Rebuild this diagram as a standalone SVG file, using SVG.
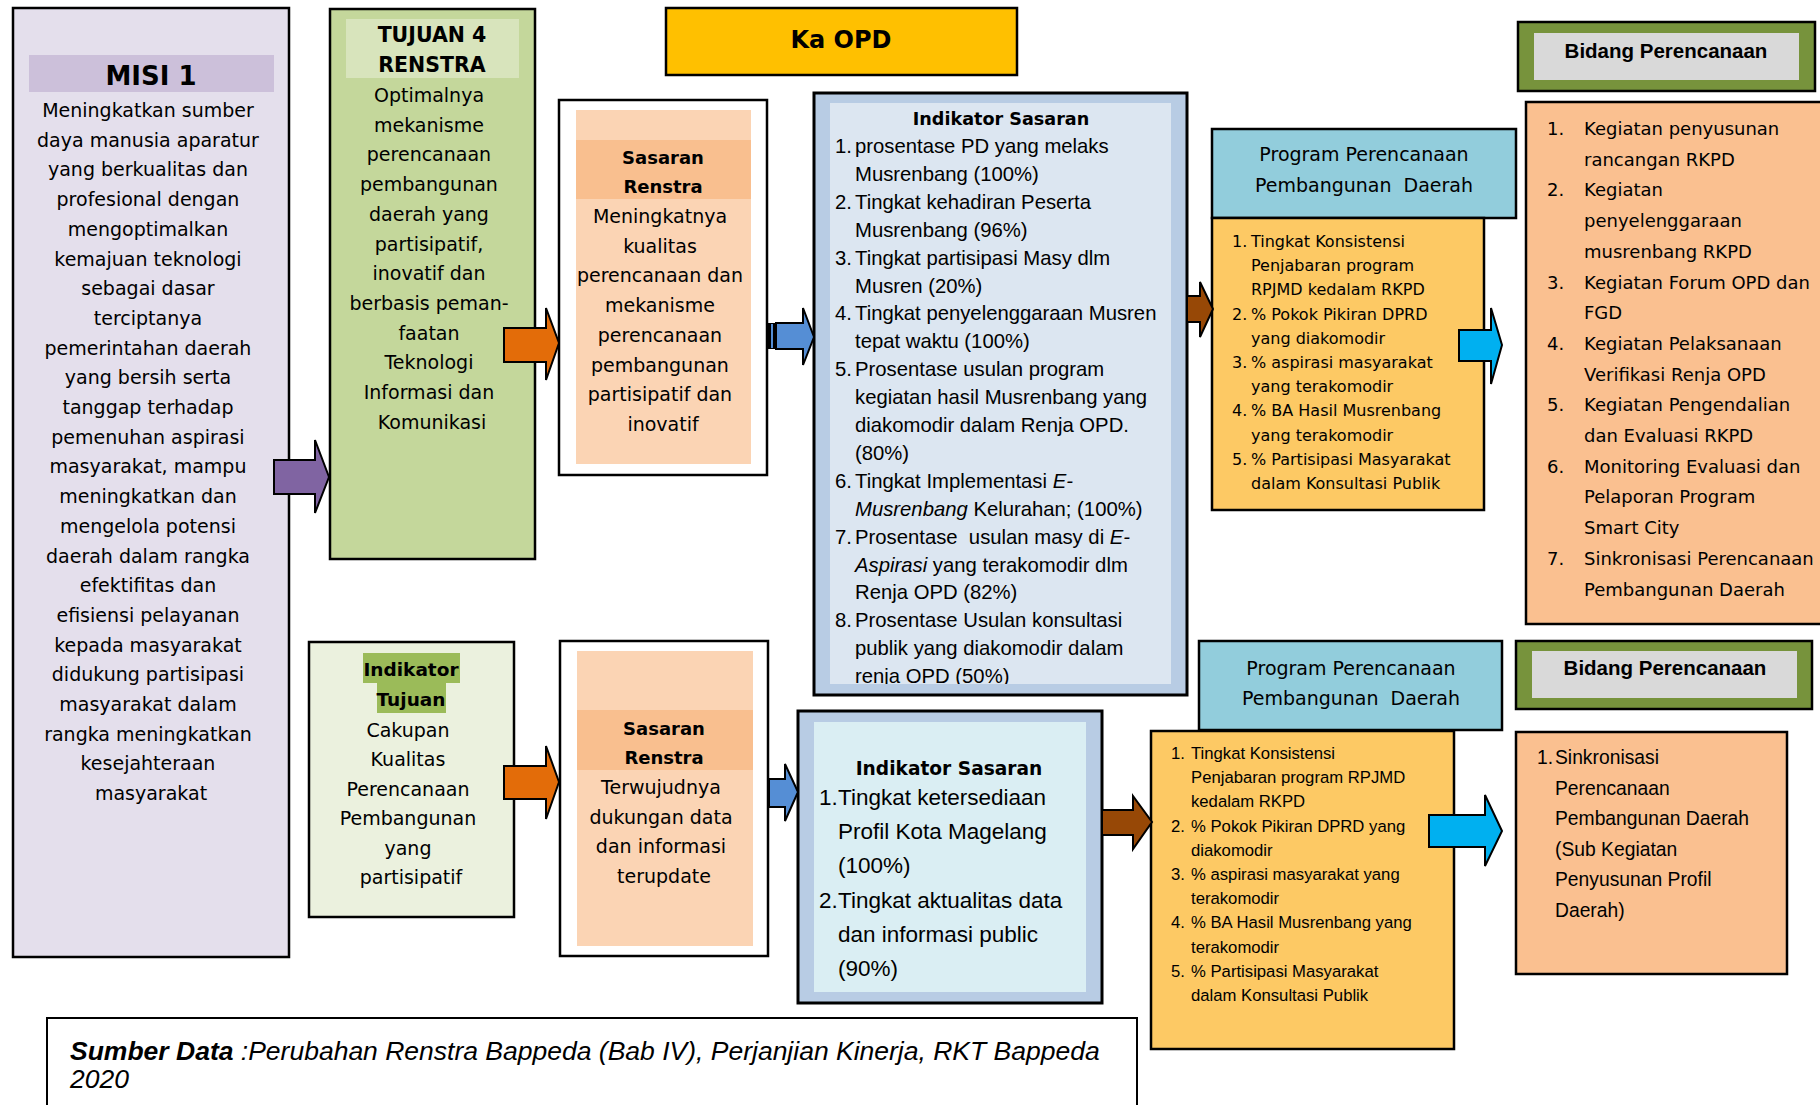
<svg xmlns="http://www.w3.org/2000/svg" width="1820" height="1105" viewBox="0 0 1820 1105">
<defs>
<style>
.bx{stroke:#000;stroke-width:2.5}
.w{font-family:"DejaVu Sans",sans-serif;font-size:19px;fill:#000;text-anchor:middle}
.wb{font-family:"DejaVu Sans",sans-serif;font-weight:bold;fill:#000;text-anchor:middle}
.n{font-family:"Liberation Sans",Arial,sans-serif;fill:#000}
.y{font-family:"DejaVu Sans",sans-serif;font-size:16px;fill:#000}
.k{font-family:"DejaVu Sans",sans-serif;font-size:18px;fill:#000}
.arr{stroke:#000;stroke-width:2;stroke-linejoin:miter}
</style>
<clipPath id="clipIS"><rect x="830" y="103" width="341" height="581"/></clipPath>
</defs>
<rect width="1820" height="1105" fill="#fff"/>

<g id="misi">
<rect class="bx" x="13" y="8" width="276" height="949" fill="#e4dfec"/>
<rect x="29" y="55" width="245" height="37" fill="#ccc0da"/>
<text class="wb" x="151" y="85" font-size="26">MISI 1</text>
<text class="w">
<tspan x="151" y="117">Meningkatkan sumber</tspan>
<tspan x="151" y="146.7">daya manusia aparatur</tspan>
<tspan x="151" y="176.4">yang berkualitas dan</tspan>
<tspan x="151" y="206.1">profesional dengan</tspan>
<tspan x="151" y="235.8">mengoptimalkan</tspan>
<tspan x="151" y="265.5">kemajuan teknologi</tspan>
<tspan x="151" y="295.2">sebagai dasar</tspan>
<tspan x="151" y="324.9">terciptanya</tspan>
<tspan x="151" y="354.6">pemerintahan daerah</tspan>
<tspan x="151" y="384.3">yang bersih serta</tspan>
<tspan x="151" y="414">tanggap terhadap</tspan>
<tspan x="151" y="443.7">pemenuhan aspirasi</tspan>
<tspan x="151" y="473.4">masyarakat, mampu</tspan>
<tspan x="151" y="503.1">meningkatkan dan</tspan>
<tspan x="151" y="532.8">mengelola potensi</tspan>
<tspan x="151" y="562.5">daerah dalam rangka</tspan>
<tspan x="151" y="592.2">efektifitas dan</tspan>
<tspan x="151" y="621.9">efisiensi pelayanan</tspan>
<tspan x="151" y="651.6">kepada masyarakat</tspan>
<tspan x="151" y="681.3">didukung partisipasi</tspan>
<tspan x="151" y="711">masyarakat dalam</tspan>
<tspan x="151" y="740.7">rangka meningkatkan</tspan>
<tspan x="151" y="770.4">kesejahteraan</tspan>
<tspan x="151" y="800.1">masyarakat</tspan>
</text>
</g>

<g id="tujuan">
<rect class="bx" x="330" y="9" width="205" height="550" fill="#c4d79b"/>
<rect x="346" y="19" width="173" height="59" fill="#d8e4bc"/>
<text class="wb" font-size="20.5"><tspan x="432" y="42">TUJUAN 4</tspan><tspan x="432" y="72">RENSTRA</tspan></text>
<text class="w">
<tspan x="432" y="102">Optimalnya</tspan>
<tspan x="432" y="131.7">mekanisme</tspan>
<tspan x="432" y="161.4">perencanaan</tspan>
<tspan x="432" y="191.1">pembangunan</tspan>
<tspan x="432" y="220.8">daerah yang</tspan>
<tspan x="432" y="250.5">partisipatif,</tspan>
<tspan x="432" y="280.2">inovatif dan</tspan>
<tspan x="432" y="309.9">berbasis peman-</tspan>
<tspan x="432" y="339.6">faatan</tspan>
<tspan x="432" y="369.3">Teknologi</tspan>
<tspan x="432" y="399">Informasi dan</tspan>
<tspan x="432" y="428.7">Komunikasi</tspan>
</text>
</g>

<g id="indikator-tujuan">
<rect class="bx" x="309" y="642" width="205" height="275" fill="#ebf1de"/>
<rect x="363" y="653" width="97" height="30" fill="#9bbb59"/>
<rect x="377" y="683" width="69" height="30" fill="#9bbb59"/>
<text class="wb" font-size="18.5"><tspan x="411" y="676">Indikator</tspan><tspan x="411" y="706">Tujuan</tspan></text>
<text class="w" font-size="18.5">
<tspan x="411" y="737">Cakupan</tspan>
<tspan x="411" y="766">Kualitas</tspan>
<tspan x="411" y="795.5">Perencanaan</tspan>
<tspan x="411" y="825">Pembangunan</tspan>
<tspan x="411" y="854.5">yang</tspan>
<tspan x="411" y="884">partisipatif</tspan>
</text>
</g>

<g id="ka-opd">
<rect class="bx" x="666" y="8" width="351" height="67" fill="#ffc000"/>
<text class="wb" x="841" y="48" font-size="24">Ka OPD</text>
</g>

<g id="sasaran-1">
<rect class="bx" x="559" y="100" width="208" height="375" fill="#fff"/>
<rect x="576" y="110" width="175" height="354" fill="#fbd4b4"/>
<rect x="576" y="140" width="175" height="59" fill="#f9bf8f"/>
<text class="wb" font-size="18"><tspan x="663" y="164">Sasaran</tspan><tspan x="663" y="193">Renstra</tspan></text>
<text class="w">
<tspan x="663" y="223">Meningkatnya</tspan>
<tspan x="663" y="252.7">kualitas</tspan>
<tspan x="663" y="282.4">perencanaan dan</tspan>
<tspan x="663" y="312.1">mekanisme</tspan>
<tspan x="663" y="341.8">perencanaan</tspan>
<tspan x="663" y="371.5">pembangunan</tspan>
<tspan x="663" y="401.2">partisipatif dan</tspan>
<tspan x="663" y="430.9">inovatif</tspan>
</text>
</g>

<g id="sasaran-2">
<rect class="bx" x="560" y="641" width="208" height="315" fill="#fff"/>
<rect x="577" y="651" width="176" height="295" fill="#fbd4b4"/>
<rect x="577" y="710" width="176" height="60" fill="#f9bf8f"/>
<text class="wb" font-size="18"><tspan x="664" y="735">Sasaran</tspan><tspan x="664" y="764">Renstra</tspan></text>
<text class="w">
<tspan x="664" y="794">Terwujudnya</tspan>
<tspan x="664" y="823.5">dukungan data</tspan>
<tspan x="664" y="853">dan informasi</tspan>
<tspan x="664" y="882.5">terupdate</tspan>
</text>
</g>

<g id="indikator-sasaran-1">
<rect x="814" y="93" width="373" height="602" fill="#b8cce4" stroke="#000" stroke-width="3"/>
<rect x="830" y="103" width="341" height="581" fill="#dce6f1"/>
<text class="wb" x="1001" y="125" font-size="17.6">Indikator Sasaran</text>
<g clip-path="url(#clipIS)">
<text class="n" font-size="20.3">
<tspan x="835" y="153">1.</tspan><tspan x="855" y="153">prosentase PD yang melaks</tspan>
<tspan x="855" y="180.9">Musrenbang (100%)</tspan>
<tspan x="835" y="208.8">2.</tspan><tspan x="855" y="208.8">Tingkat kehadiran Peserta</tspan>
<tspan x="855" y="236.7">Musrenbang (96%)</tspan>
<tspan x="835" y="264.6">3.</tspan><tspan x="855" y="264.6">Tingkat partisipasi Masy dlm</tspan>
<tspan x="855" y="292.5">Musren (20%)</tspan>
<tspan x="835" y="320.4">4.</tspan><tspan x="855" y="320.4">Tingkat penyelenggaraan Musren</tspan>
<tspan x="855" y="348.3">tepat waktu (100%)</tspan>
<tspan x="835" y="376.2">5.</tspan><tspan x="855" y="376.2">Prosentase usulan program</tspan>
<tspan x="855" y="404.1">kegiatan hasil Musrenbang yang</tspan>
<tspan x="855" y="432">diakomodir dalam Renja OPD.</tspan>
<tspan x="855" y="459.9">(80%)</tspan>
<tspan x="835" y="487.8">6.</tspan><tspan x="855" y="487.8">Tingkat Implementasi <tspan font-style="italic">E-</tspan></tspan>
<tspan x="855" y="515.7" font-style="italic">Musrenbang</tspan><tspan> Kelurahan; (100%)</tspan>
<tspan x="835" y="543.6">7.</tspan><tspan x="855" y="543.6">Prosentase&#160; usulan masy di <tspan font-style="italic">E-</tspan></tspan>
<tspan x="855" y="571.5" font-style="italic">Aspirasi</tspan><tspan> yang terakomodir dlm</tspan>
<tspan x="855" y="599.4">Renja OPD (82%)</tspan>
<tspan x="835" y="627.3">8.</tspan><tspan x="855" y="627.3">Prosentase Usulan konsultasi</tspan>
<tspan x="855" y="655.2">publik yang diakomodir dalam</tspan>
<tspan x="855" y="683.1">renja OPD (50%)</tspan>
</text>
</g>
</g>

<g id="indikator-sasaran-2">
<rect x="798" y="711" width="304" height="292" fill="#b8cce4" stroke="#000" stroke-width="3"/>
<rect x="814" y="722" width="272" height="270" fill="#daeef3"/>
<text class="wb" x="949" y="775" font-size="18.6">Indikator Sasaran</text>
<text class="n" font-size="22.5">
<tspan x="819" y="805">1.</tspan><tspan x="838" y="805">Tingkat ketersediaan</tspan>
<tspan x="838" y="839.2">Profil Kota Magelang</tspan>
<tspan x="838" y="873.4">(100%)</tspan>
<tspan x="819" y="907.6">2.</tspan><tspan x="838" y="907.6">Tingkat aktualitas data</tspan>
<tspan x="838" y="941.8">dan informasi public</tspan>
<tspan x="838" y="976">(90%)</tspan>
</text>
</g>

<g id="program-1">
<rect class="bx" x="1212" y="129" width="304" height="89" fill="#92cddc"/>
<text class="w"><tspan x="1364" y="161">Program Perencanaan</tspan><tspan x="1364" y="192">Pembangunan&#160; Daerah</tspan></text>
<rect class="bx" x="1212" y="218" width="272" height="292" fill="#fdc964"/>
<text class="y">
<tspan x="1232" y="247">1.</tspan><tspan x="1251" y="247">Tingkat Konsistensi</tspan>
<tspan x="1251" y="271.2">Penjabaran program</tspan>
<tspan x="1251" y="295.4">RPJMD kedalam RKPD</tspan>
<tspan x="1232" y="319.6">2.</tspan><tspan x="1251" y="319.6">% Pokok Pikiran DPRD</tspan>
<tspan x="1251" y="343.8">yang diakomodir</tspan>
<tspan x="1232" y="368">3.</tspan><tspan x="1251" y="368">% aspirasi masyarakat</tspan>
<tspan x="1251" y="392.2">yang terakomodir</tspan>
<tspan x="1232" y="416.4">4.</tspan><tspan x="1251" y="416.4">% BA Hasil Musrenbang</tspan>
<tspan x="1251" y="440.6">yang terakomodir</tspan>
<tspan x="1232" y="464.8">5.</tspan><tspan x="1251" y="464.8">% Partisipasi Masyarakat</tspan>
<tspan x="1251" y="489">dalam Konsultasi Publik</tspan>
</text>
</g>

<g id="program-2">
<rect class="bx" x="1199" y="641" width="303" height="89" fill="#92cddc"/>
<text class="w"><tspan x="1351" y="675">Program Perencanaan</tspan><tspan x="1351" y="705">Pembangunan&#160; Daerah</tspan></text>
<rect class="bx" x="1151" y="731" width="303" height="318" fill="#fdc964"/>
<text class="n" font-size="16.7">
<tspan x="1171" y="759">1.</tspan><tspan x="1191" y="759">Tingkat Konsistensi</tspan>
<tspan x="1191" y="783.2">Penjabaran program RPJMD</tspan>
<tspan x="1191" y="807.4">kedalam RKPD</tspan>
<tspan x="1171" y="831.6">2.</tspan><tspan x="1191" y="831.6">% Pokok Pikiran DPRD yang</tspan>
<tspan x="1191" y="855.8">diakomodir</tspan>
<tspan x="1171" y="880">3.</tspan><tspan x="1191" y="880">% aspirasi masyarakat yang</tspan>
<tspan x="1191" y="904.2">terakomodir</tspan>
<tspan x="1171" y="928.4">4.</tspan><tspan x="1191" y="928.4">% BA Hasil Musrenbang yang</tspan>
<tspan x="1191" y="952.6">terakomodir</tspan>
<tspan x="1171" y="976.8">5.</tspan><tspan x="1191" y="976.8">% Partisipasi Masyarakat</tspan>
<tspan x="1191" y="1001">dalam Konsultasi Publik</tspan>
</text>
</g>

<g id="bidang-1">
<rect class="bx" x="1518" y="22" width="297" height="69" fill="#77933c"/>
<rect x="1534" y="33" width="265" height="47" fill="#d9d9d9"/>
<text class="n" x="1666" y="58" font-size="20.5" font-weight="bold" text-anchor="middle">Bidang Perencanaan</text>
<rect class="bx" x="1526" y="102" width="297" height="522" fill="#fac090"/>
<text class="k">
<tspan x="1547" y="135">1.</tspan><tspan x="1584" y="135">Kegiatan penyusunan</tspan>
<tspan x="1584" y="165.7">rancangan RKPD</tspan>
<tspan x="1547" y="196.4">2.</tspan><tspan x="1584" y="196.4">Kegiatan</tspan>
<tspan x="1584" y="227.1">penyelenggaraan</tspan>
<tspan x="1584" y="257.8">musrenbang RKPD</tspan>
<tspan x="1547" y="288.5">3.</tspan><tspan x="1584" y="288.5">Kegiatan Forum OPD dan</tspan>
<tspan x="1584" y="319.2">FGD</tspan>
<tspan x="1547" y="349.9">4.</tspan><tspan x="1584" y="349.9">Kegiatan Pelaksanaan</tspan>
<tspan x="1584" y="380.6">Verifikasi Renja OPD</tspan>
<tspan x="1547" y="411.3">5.</tspan><tspan x="1584" y="411.3">Kegiatan Pengendalian</tspan>
<tspan x="1584" y="442">dan Evaluasi RKPD</tspan>
<tspan x="1547" y="472.7">6.</tspan><tspan x="1584" y="472.7">Monitoring Evaluasi dan</tspan>
<tspan x="1584" y="503.4">Pelaporan Program</tspan>
<tspan x="1584" y="534.1">Smart City</tspan>
<tspan x="1547" y="564.8">7.</tspan><tspan x="1584" y="564.8">Sinkronisasi Perencanaan</tspan>
<tspan x="1584" y="595.5">Pembangunan Daerah</tspan>
</text>
</g>

<g id="bidang-2">
<rect class="bx" x="1516" y="641" width="296" height="68" fill="#77933c"/>
<rect x="1532" y="651" width="265" height="47" fill="#d9d9d9"/>
<text class="n" x="1665" y="675" font-size="20.5" font-weight="bold" text-anchor="middle">Bidang Perencanaan</text>
<rect class="bx" x="1516" y="732" width="271" height="242" fill="#fac090"/>
<text class="n" font-size="19.3">
<tspan x="1537" y="764">1.</tspan><tspan x="1555" y="764">Sinkronisasi</tspan>
<tspan x="1555" y="794.6">Perencanaan</tspan>
<tspan x="1555" y="825.2">Pembangunan Daerah</tspan>
<tspan x="1555" y="855.8">(Sub Kegiatan</tspan>
<tspan x="1555" y="886.4">Penyusunan Profil</tspan>
<tspan x="1555" y="917">Daerah)</tspan>
</text>
</g>

<g id="sumber-data">
<rect x="47" y="1018" width="1090" height="95" fill="#fff" stroke="#000" stroke-width="2"/>
<text class="n" font-size="26.5" font-style="italic"><tspan x="70" y="1060" font-weight="bold">Sumber Data</tspan><tspan> :Perubahan Renstra Bappeda (Bab IV), Perjanjian Kinerja, RKT Bappeda</tspan><tspan x="70" y="1088">2020</tspan></text>
</g>

<g id="connectors">
<polygon class="arr" fill="#8064a2" points="274,460 315,460 315,440 329,477 315,513 315,494 274,494"/>
<polygon class="arr" fill="#e36c09" points="504,328 546,328 546,308 559,343 546,380 546,362 504,362"/>
<polygon class="arr" fill="#e36c09" points="504,766 546,766 546,746 559,782 546,819 546,799 504,799"/>
<rect x="767" y="323" width="9" height="26" fill="#000"/>
<rect x="771" y="324" width="2" height="24" fill="#558ed5"/>
<polygon class="arr" fill="#558ed5" points="776,323 803,323 803,308 814,337 803,365 803,349 776,349"/>
<polygon class="arr" fill="#558ed5" points="769,779 785,779 785,764 798,792 785,821 785,807 769,807"/>
<polygon class="arr" fill="#974806" points="1187,296 1200,296 1200,282 1213,309 1200,337 1200,322 1187,322"/>
<polygon class="arr" fill="#974806" points="1102,810 1133,810 1133,796 1152,822 1133,849 1133,835 1102,835"/>
<polygon class="arr" fill="#00b0f0" points="1459,330 1491,330 1491,308 1502,345 1491,384 1491,361 1459,361"/>
<polygon class="arr" fill="#00b0f0" points="1429,815 1485,815 1485,795 1502,831 1485,866 1485,847 1429,847"/>
</g>
</svg>
